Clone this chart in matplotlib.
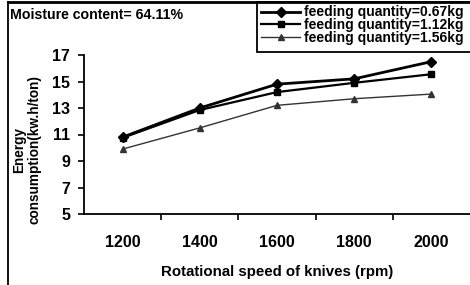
import matplotlib
matplotlib.use("Agg")
import matplotlib.pyplot as plt
from matplotlib.lines import Line2D
from matplotlib.patches import Rectangle

categories = ["1200", "1400", "1600", "1800", "2000"]
s067 = [10.8, 13.0, 14.8, 15.2, 16.5]
s112 = [10.75, 12.85, 14.2, 14.9, 15.55]
s156 = [9.9, 11.5, 13.2, 13.7, 14.05]
labels = ["feeding quantity=0.67kg", "feeding quantity=1.12kg", "feeding quantity=1.56kg"]
yticks = [5, 7, 9, 11, 13, 15, 17]

plt.rcParams['font.family'] = ['Liberation Sans', 'DejaVu Sans']
plt.rcParams['font.weight'] = 'bold'

W, H = 470, 285
fig = plt.figure(figsize=(W/100, H/100), dpi=100)
ax = fig.add_axes([84/W, 1-214/H, (470-84)/W, (214-55)/H])

x = list(range(len(categories)))
ax.plot(x, s067, color='black', lw=2.0, marker='D', ms=5, label=labels[0])
ax.plot(x, s112, color='black', lw=1.6, marker='s', ms=5, label=labels[1])
ax.plot(x, s156, color='#333333', lw=1.0, marker='^', ms=5, label=labels[2])

ax.set_xlim(-0.5, 4.5)
ax.set_ylim(5, 17)
ax.set_yticks(yticks)
ax.set_yticklabels([str(v) for v in yticks], fontsize=11.5, fontweight='bold')
ax.set_xticks(x)
ax.set_xticklabels(categories, fontsize=11.5, fontweight='bold')
ax.set_xticks([0.5, 1.5, 2.5, 3.5], minor=True)
ax.tick_params(axis='x', which='major', length=0, pad=15)
ax.tick_params(axis='x', which='minor', length=4, width=1.2, direction='out')
ax.tick_params(axis='y', length=4, width=1.2, direction='out', pad=6)
ax.spines['top'].set_visible(False)
ax.spines['right'].set_visible(False)
ax.spines['left'].set_linewidth(1.3)
ax.spines['bottom'].set_linewidth(1.3)

ax.set_xlabel("Rotational speed of knives (rpm)", fontsize=10.8, fontweight='bold', labelpad=11)
fig.text(27/W, 1-150/H, "Energy\nconsumption(kw.h/ton)", rotation=90, ha='center', va='center',
         fontsize=9.8, fontweight='bold', linespacing=1.15)
fig.text(10/W, 1-15/H, "Moisture content= 64.11%", ha='left', va='center',
         fontsize=10.2, fontweight='bold')

# outer frame (left and top)
fig.add_artist(Line2D([8/W, 8/W], [0, 1-1.5/H], color='black', lw=1.3, transform=fig.transFigure))
fig.add_artist(Line2D([8/W, 1], [1-1.5/H, 1-1.5/H], color='black', lw=2.0, transform=fig.transFigure))

# legend box
fig.add_artist(Rectangle((257/W, 1-52/H), (W-257+10)/W, 50/H, transform=fig.transFigure,
                         fill=True, facecolor='white', edgecolor='black', lw=1.3))
leg = fig.legend(loc='upper left', bbox_to_anchor=(260/W, 1-4/H), frameon=False,
                 prop={'weight': 'bold', 'size': 10}, handlelength=2.8,
                 handletextpad=0.3, labelspacing=-0.1, borderpad=0.1, borderaxespad=0)
leg.set_zorder(5)

fig.savefig("out.png", dpi=100)
